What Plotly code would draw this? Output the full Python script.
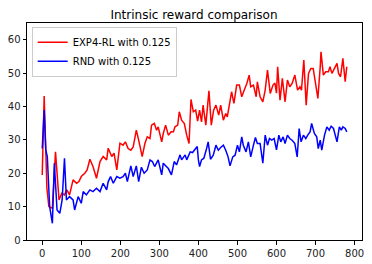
import plotly.graph_objects as go

# EXP4-RL with 0.125 (red)
exp4_x = [0, 5, 12, 17, 26, 34, 43, 50, 57, 63, 70, 79, 88, 94, 100, 109, 115, 122, 130, 139,
          148, 156, 165, 169, 178, 184, 191, 199, 207, 213, 220, 227, 233, 241, 247, 256, 263,
          269, 276, 280, 287, 293, 297, 306, 310, 316, 323, 330, 336, 340, 347, 351, 357, 364,
          370, 376, 381, 387, 393, 398, 403, 408, 412, 419, 427, 433, 439, 445, 452, 457, 464,
          470, 474, 479, 485, 491, 498, 505, 511, 518, 524, 530, 534, 541, 548, 551, 558, 565,
          571, 577, 584, 591, 596, 600, 603, 609, 615, 622, 628, 634, 640, 647, 654, 660, 664,
          670, 676, 682, 688, 694, 699, 706, 712, 714, 720, 726, 733, 737, 742, 749, 755, 759,
          764, 770, 776, 780]
exp4_y = [19.5, 43.1, 15.5, 10.0, 9.5, 26.4, 12.0, 14.0, 13.5, 15.0, 13.5, 18.0, 17.0, 17.5, 19.0,
          20.0, 21.0, 24.2, 22.0, 18.5, 23.5, 25.0, 24.0, 27.5, 25.0, 26.0, 21.0, 29.0, 28.4, 29.4,
          27.4, 26.9, 27.9, 32.9, 29.9, 25.0, 28.9, 30.9, 30.4, 34.4, 34.9, 32.9, 33.9, 29.4, 31.9,
          34.4, 31.4, 32.4, 32.4, 33.9, 34.4, 38.4, 35.9, 34.9, 31.4, 28.9, 42.1, 38.4, 38.9, 35.6,
          38.9, 35.4, 40.4, 34.4, 44.7, 34.4, 38.9, 40.4, 37.4, 40.4, 35.9, 37.9, 36.9, 40.4, 44.4,
          40.9, 46.4, 46.4, 42.9, 45.1, 46.9, 49.4, 45.9, 46.4, 42.9, 47.4, 42.9, 41.4, 44.9, 50.9,
          43.9, 46.4, 47.0, 44.0, 51.9, 41.9, 48.4, 41.4, 47.9, 45.9, 46.9, 49.4, 44.9, 45.9, 44.9,
          53.9, 40.4, 49.9, 51.4, 51.4, 47.9, 42.4, 51.9, 56.4, 49.4, 50.4, 50.4, 51.9, 49.9, 51.4,
          52.9, 49.9, 48.9, 54.4, 47.4, 51.9]

# RND with 0.125 (blue)
rnd_x = [0, 5, 9, 13, 19, 26, 31, 38, 45, 51, 57, 62, 70, 79, 83, 92, 100, 105, 113, 122, 130,
         139, 148, 156, 165, 169, 175, 182, 191, 199, 207, 213, 218, 227, 233, 241, 247, 254, 261,
         269, 276, 282, 288, 297, 306, 310, 318, 323, 331, 338, 344, 353, 357, 366, 370, 379, 385,
         391, 397, 400, 403, 408, 414, 421, 425, 431, 438, 445, 451, 457, 464, 470, 476, 481, 488,
         494, 500, 505, 511, 515, 522, 528, 534, 541, 546, 551, 558, 565, 571, 577, 582, 588, 594,
         600, 606, 611, 617, 622, 628, 634, 640, 647, 653, 658, 663, 669, 675, 680, 686, 690, 697,
         703, 707, 712, 716, 723, 729, 735, 740, 746, 750, 755, 761, 766, 770, 776, 780]
rnd_y = [27.4, 38.9, 27.0, 25.0, 10.0, 5.0, 23.0, 9.0, 8.0, 12.0, 24.5, 12.0, 13.0, 12.0, 9.0,
         13.0, 11.0, 14.5, 13.5, 15.0, 14.5, 15.5, 14.5, 17.0, 15.0, 17.5, 19.0, 17.0, 19.0, 18.5,
         19.0, 20.0, 17.5, 22.2, 19.0, 22.2, 17.5, 21.8, 20.0, 21.0, 24.0, 23.5, 22.0, 24.0, 19.5,
         23.0, 22.0, 21.4, 19.5, 23.5, 22.5, 25.5, 24.0, 25.5, 24.0, 26.4, 26.2, 27.0, 28.0, 24.0,
         22.0, 24.0, 24.5, 27.4, 29.4, 24.2, 25.4, 28.4, 26.9, 27.7, 28.4, 26.9, 24.9, 22.2, 24.9,
         25.4, 28.4, 26.4, 30.9, 28.4, 26.4, 29.4, 24.9, 28.4, 30.7, 28.9, 28.9, 23.0, 31.4, 28.4,
         30.4, 29.9, 30.4, 27.0, 31.4, 29.4, 30.9, 28.9, 31.4, 30.4, 29.9, 28.9, 24.9, 33.4, 29.4,
         31.4, 30.4, 31.4, 32.4, 34.9, 31.9, 30.9, 27.4, 29.9, 26.9, 31.4, 33.9, 32.9, 34.1, 33.4,
         31.4, 29.4, 33.9, 32.9, 33.9, 33.4, 32.4]

x_ticks = [0, 100, 200, 300, 400, 500, 600, 700, 800]
y_ticks = [0, 10, 20, 30, 40, 50, 60]

FONT = "DejaVu Sans"

fig = go.Figure()
fig.add_trace(go.Scatter(x=exp4_x, y=exp4_y, mode="lines", name="EXP4-RL with 0.125",
                         line=dict(color="#ff0000", width=1.5)))
fig.add_trace(go.Scatter(x=rnd_x, y=rnd_y, mode="lines", name="RND with 0.125",
                         line=dict(color="#0000ff", width=1.5)))

axis_common = dict(showgrid=False, zeroline=False, showline=True, linecolor="black",
                   linewidth=1, mirror=True, ticks="outside", ticklen=3.5, tickwidth=1,
                   tickcolor="black", automargin=False,
                   tickfont=dict(family=FONT, size=10, color="#222"))

# The page body adds an 8px offset, so the figure is sized to fill the rest of the window.
fig.update_layout(
    width=364, height=256,
    margin=dict(l=19, r=10, t=15, b=24, autoexpand=False),
    paper_bgcolor="white", plot_bgcolor="white",
    title=dict(text="Intrinsic reward comparison", x=0.511, xanchor="center", y=0.9746,
               yanchor="middle", font=dict(family=FONT, size=12, color="black"),
               automargin=False),
    xaxis=dict(range=[-39, 819], tickvals=x_ticks, ticktext=[str(v) for v in x_ticks], **axis_common),
    yaxis=dict(range=[0, 65], tickvals=y_ticks, ticktext=[str(v) for v in y_ticks], **axis_common),
    legend=dict(x=0.014, y=0.983, xanchor="left", yanchor="top", bgcolor="rgba(255,255,255,0.85)",
                bordercolor="#cccccc", borderwidth=1, font=dict(family=FONT, size=10, color="black"),
                itemwidth=30, tracegroupgap=0),
    showlegend=True,
)

fig.write_html("out.html")
